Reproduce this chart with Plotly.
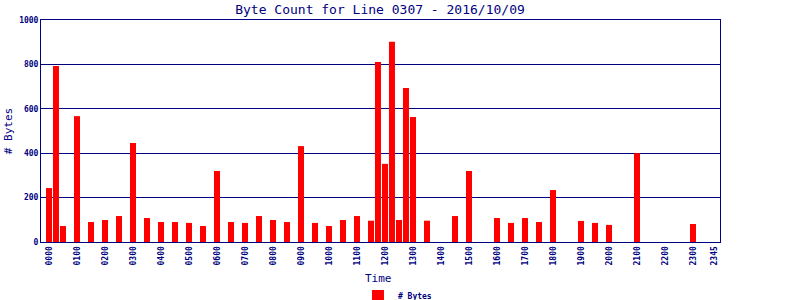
import plotly.graph_objects as go

# 15-minute time slots
times = ["%02d%02d" % (h, m) for h in range(24) for m in (0, 15, 30, 45)]

# byte counts per slot (0 = no data)
byte_values = [
    243, 793, 72, 0, 567, 0, 90, 0, 99, 0, 117, 0, 446, 0, 108, 0,      # 0000-0345
    90, 0, 90, 0, 86, 0, 72, 0, 320, 0, 90, 0, 86, 0, 117, 0,           # 0400-0745
    99, 0, 90, 0, 432, 0, 86, 0, 72, 0, 99, 0, 117, 0, 96, 811,         # 0800-1145
    352, 902, 99, 694, 563, 0, 96, 0, 0, 0, 117, 0, 320, 0, 0, 0,       # 1200-1545
    108, 0, 86, 0, 108, 0, 90, 0, 234, 0, 0, 0, 95, 0, 86, 0,           # 1600-1945
    77, 0, 0, 0, 400, 0, 0, 0, 0, 0, 0, 0, 81, 0, 0, 0,                 # 2000-2345
]

tick_labels = ["%02d00" % h for h in range(24)] + ["2345"]
y_ticks = [0, 200, 400, 600, 800, 1000]

NAVY = "#000080"
FONT = "DejaVu Sans Mono"

fig = go.Figure()
fig.add_trace(go.Bar(
    x=times, y=byte_values, name="# Bytes",
    marker=dict(color="#ff0000", line=dict(width=0)),
    showlegend=True,
))

fig.update_layout(
    width=800, height=300,
    margin=dict(l=41, r=80, t=20, b=58, autoexpand=False),
    paper_bgcolor="white", plot_bgcolor="white",
    bargap=1/7,
    title=dict(text="Byte Count for Line 0307 - 2016/10/09", x=380/800, xanchor="center",
               y=1 - 9/300, yanchor="middle",
               font=dict(family=FONT, size=13, color=NAVY)),
    xaxis=dict(
        type="category", categoryorder="array", categoryarray=times,
        range=[-1.14, 95.86], automargin=False,
        tickmode="array", tickvals=tick_labels, ticktext=tick_labels,
        tickangle=-90, ticks="", showgrid=False,
        showline=True, linecolor=NAVY, linewidth=1, mirror=True,
        tickfont=dict(family=FONT, size=8, color=NAVY, weight="bold"),
    ),
    yaxis=dict(
        range=[0, 1000], tickvals=y_ticks, ticks="", automargin=False,
        showgrid=True, gridcolor=NAVY, gridwidth=1,
        showline=True, linecolor=NAVY, linewidth=1, mirror=True,
        zeroline=False,
        tickfont=dict(family=FONT, size=8, color=NAVY, weight="bold"),
        title=dict(text="# Bytes", font=dict(family=FONT, size=11, color=NAVY), standoff=4),
    ),
    legend=dict(orientation="h", x=420/800, xanchor="center",
                yref="container", y=1 - 296/300, yanchor="middle",
                font=dict(family=FONT, size=8, color=NAVY, weight="bold"),
                itemwidth=30, bgcolor="rgba(0,0,0,0)",
                tracegroupgap=0, borderwidth=0),
    annotations=[dict(text="Time", xref="paper", yref="paper", x=(378 - 41) / 679,
                      y=(242 - 278) / 222, xanchor="center", yanchor="middle",
                      showarrow=False, font=dict(family=FONT, size=11, color=NAVY))],
)

fig.write_html("out.html")
